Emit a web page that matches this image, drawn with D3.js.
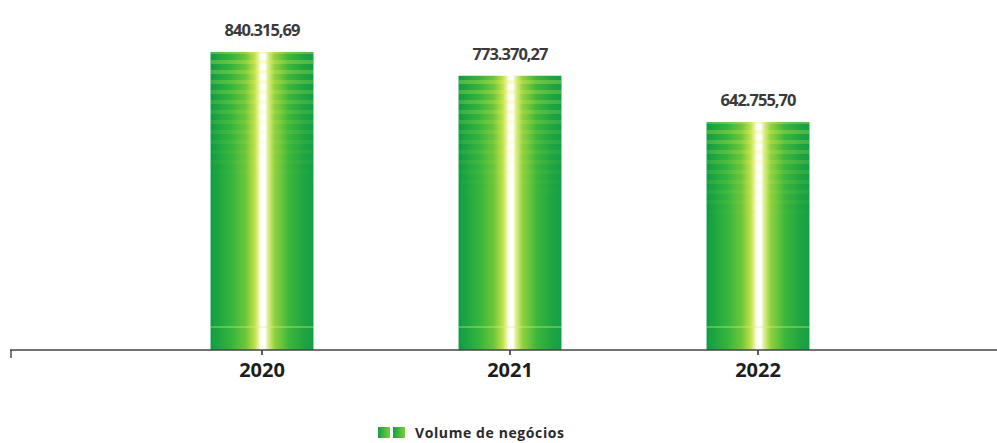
<!DOCTYPE html>
<html>
<head>
<meta charset="utf-8">
<script src="https://cdn.jsdelivr.net/npm/d3@7"></script>
<style>
  html, body { margin: 0; padding: 0; background: #fff; }
  svg { display: block; }
</style>
</head>
<body>
<svg id="chart" width="997" height="443"></svg>
<script>
// Business volume per year
const years = ["2020", "2021", "2022"];
const volumes = [840315.69, 773370.27, 642755.70];
const valueLabels = ["840.315,69", "773.370,27", "642.755,70"];
const legendLabel = "Volume de negócios";

const svg = d3.select("#chart");
const W = 997, H = 443;
const baseY = 350;

const x = d3.scaleBand()
  .domain(years)
  .range([138, 882])
  .paddingInner(0.585)
  .paddingOuter(0.2925);

const y = d3.scaleLinear()
  .domain([0, 840315.69])
  .range([baseY, 52]);

const defs = svg.append("defs");

// Horizontal green-to-yellow gradient with a bright centre stripe
const grad = defs.append("linearGradient")
  .attr("id", "barGrad")
  .attr("x1", "0%").attr("x2", "100%").attr("y1", "0%").attr("y2", "0%");
[
  [0.00, "#0f9a45"],
  [0.06, "#1aa441"],
  [0.20, "#34b43c"],
  [0.34, "#6cc63a"],
  [0.43, "#bfe04c"],
  [0.47, "#eef6a8"],
  [0.49, "#ffffff"],
  [0.53, "#ffffff"],
  [0.555, "#e0f092"],
  [0.62, "#92d33f"],
  [0.76, "#3cb63b"],
  [0.92, "#1ca441"],
  [1.00, "#12a046"]
].forEach(([o, c]) => grad.append("stop").attr("offset", o).attr("stop-color", c));

// Soft yellow banding that fades out down the bar
const bands = defs.append("pattern")
  .attr("id", "bands")
  .attr("patternUnits", "userSpaceOnUse")
  .attr("width", 8).attr("height", 10);
bands.append("rect").attr("x", 0).attr("y", 0).attr("width", 8).attr("height", 4)
  .attr("fill", "#eef04a");

const fade = defs.append("linearGradient")
  .attr("id", "fadeGrad")
  .attr("x1", "0").attr("x2", "0").attr("y1", "0").attr("y2", "1");
fade.append("stop").attr("offset", 0).attr("stop-color", "#fff").attr("stop-opacity", 0.6);
fade.append("stop").attr("offset", 0.2).attr("stop-color", "#fff").attr("stop-opacity", 0.25);
fade.append("stop").attr("offset", 0.45).attr("stop-color", "#fff").attr("stop-opacity", 0);
const mask = defs.append("mask").attr("id", "fadeMask")
  .attr("maskContentUnits", "objectBoundingBox");
mask.append("rect").attr("width", 1).attr("height", 1).attr("fill", "url(#fadeGrad)");

const data = years.map((yr, i) => ({ yr, v: volumes[i], label: valueLabels[i] }));

const bars = svg.append("g").selectAll("g").data(data).join("g");

bars.append("rect")
  .attr("x", d => x(d.yr))
  .attr("y", d => y(d.v))
  .attr("width", x.bandwidth())
  .attr("height", d => baseY - y(d.v))
  .attr("fill", "url(#barGrad)");

bars.append("rect")
  .attr("x", d => x(d.yr))
  .attr("y", d => y(d.v))
  .attr("width", x.bandwidth())
  .attr("height", d => baseY - y(d.v))
  .attr("fill", "url(#bands)")
  .attr("mask", "url(#fadeMask)")
  .attr("opacity", 0.5);

// faint light band near the base
bars.append("rect")
  .attr("x", d => x(d.yr))
  .attr("y", baseY - 24)
  .attr("width", x.bandwidth())
  .attr("height", 2)
  .attr("fill", "#d8ee78")
  .attr("opacity", 0.35);

// Value labels
bars.append("text")
  .attr("x", d => x(d.yr) + x.bandwidth() / 2)
  .attr("y", d => y(d.v) - 16)
  .attr("text-anchor", "middle")
  .attr("font-family", "'Open Sans', sans-serif")
  .attr("font-weight", 700)
  .attr("font-size", 16.5)
  .attr("letter-spacing", -1)
  .attr("fill", "#3a3a3a")
  .text(d => d.label);

// Baseline axis
const axis = d3.axisBottom(x).tickSize(5).tickPadding(8);
const gx = svg.append("g").attr("transform", `translate(0,${baseY})`).call(axis);
gx.select(".domain").remove();
gx.append("line")
  .attr("x1", 10).attr("x2", W).attr("y1", 0).attr("y2", 0)
  .attr("stroke", "#444").attr("stroke-width", 1.6);
gx.append("line")
  .attr("x1", 11).attr("x2", 11).attr("y1", 0).attr("y2", 8)
  .attr("stroke", "#444").attr("stroke-width", 1.4);
gx.selectAll(".tick line").attr("stroke", "#333").attr("stroke-width", 1.6);
gx.selectAll(".tick text")
  .attr("font-family", "'Open Sans', sans-serif")
  .attr("font-weight", 700)
  .attr("font-size", 20)
  .attr("fill", "#1e1e1e");

// Legend
const lg = svg.append("g").attr("transform", "translate(378,427)");
const lgGrad = defs.append("linearGradient").attr("id", "lgGrad")
  .attr("x1", "0%").attr("x2", "100%");
lgGrad.append("stop").attr("offset", 0).attr("stop-color", "#14a040");
lgGrad.append("stop").attr("offset", 1).attr("stop-color", "#7ccc3a");
lg.append("rect").attr("x", 0).attr("y", 0).attr("width", 12).attr("height", 11).attr("fill", "url(#lgGrad)");
lg.append("rect").attr("x", 15).attr("y", 0).attr("width", 12).attr("height", 11).attr("fill", "url(#lgGrad)");
lg.append("text")
  .attr("x", 37).attr("y", 11)
  .attr("font-family", "'Open Sans', sans-serif")
  .attr("font-weight", 700)
  .attr("font-size", 14)
  .attr("letter-spacing", 0.6)
  .attr("fill", "#2a2a2a")
  .text(legendLabel);
</script>
</body>
</html>
